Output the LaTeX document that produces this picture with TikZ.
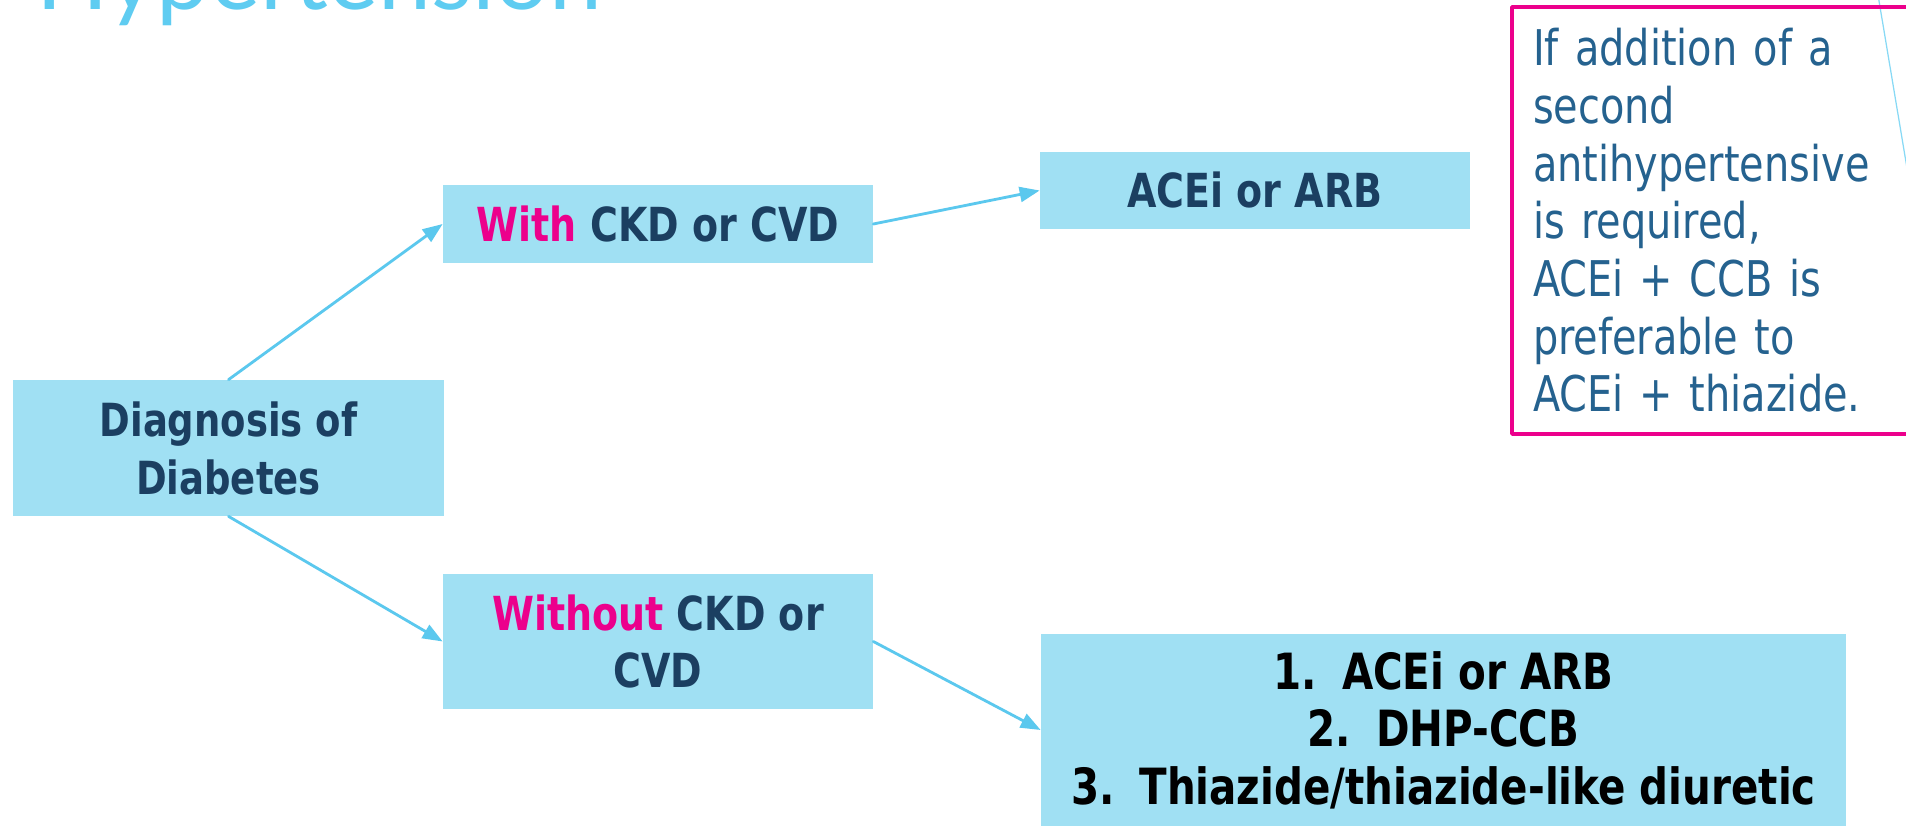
\documentclass[tikz,border=0pt]{standalone}
\usepackage{fontspec}
\setmainfont{DejaVu Sans Condensed}
\newfontfamily\boxfont{DejaVu Sans Condensed}[FakeStretch=0.9]
\newfontfamily\titlefont{Lato}
\usetikzlibrary{arrows.meta,positioning}
\definecolor{dmbox}{HTML}{A0E0F3}
\definecolor{dmarrow}{HTML}{5BC8EE}
\definecolor{dmink}{HTML}{1B3F61}
\definecolor{dmpink}{HTML}{EC008C}
\definecolor{dmnote}{HTML}{25628F}
\definecolor{dmtitle}{HTML}{5FCCF1}

\begin{document}
\begin{tikzpicture}[>={Triangle[length=0.4cm,width=0.3cm]},
  line cap=round,line join=round,
  box/.style={fill=dmbox,inner sep=0pt,align=center,text=dmink,
    font=\boxfont\bfseries\fontsize{26.7}{33}\selectfont},
  link/.style={->,dmarrow,line width=1.6pt}]
\path[use as bounding box] (0,0) rectangle (38.12,16.5);
\fill[white] (0,0) rectangle (38.12,16.5);
\begin{scope}
\clip (0,0) rectangle (38.12,16.5);
% slide title: only its lower edge is on the page
\node[anchor=base west,inner sep=0pt,text=dmtitle,font=\titlefont\fontsize{54}{60}\selectfont] (title) at (0.72,16.3) {Hypertension};
\draw[dmtitle!75,line width=0.7pt] (37.56,16.6)--(38.18,12.9);
% decision tree
\node[box,minimum width=8.62cm,minimum height=2.72cm,font=\boxfont\bfseries\fontsize{26}{33}\selectfont] (diag) at (4.57,7.54) {Diagnosis of\\Diabetes};
\node[box,minimum width=8.6cm,minimum height=1.56cm] (ckdyes) at (13.16,12.02) {\textcolor{dmpink}{With} CKD or CVD};
\node[box,minimum width=8.6cm,minimum height=2.7cm] (ckdno) at (13.16,3.67) {\textcolor{dmpink}{Without} CKD or\\CVD};
\node[box,minimum width=8.6cm,minimum height=1.54cm] (acei) at (25.10,12.69) {ACEi or ARB};
\node[box,minimum width=16.1cm,minimum height=3.84cm,text=black,font=\boxfont\bfseries\fontsize{28.4}{32.7}\selectfont] (drugs) at (28.87,1.90)
  {1.\hspace{0.5em}ACEi or ARB\\2.\hspace{0.5em}DHP-CCB\\3.\hspace{0.5em}Thiazide/thiazide-like diuretic};
\draw[link] (diag.north)--(ckdyes.west);
\draw[link] (diag.south)--(ckdno.west);
\draw[link] (ckdyes.east)--(acei.west);
\draw[link] (ckdno.east)--(drugs.west);
% note on the second drug, cut by the right edge
\node[draw=dmpink,line width=2pt,text=dmnote,align=left,inner xsep=0.42cm,inner ysep=0pt,
  text width=7.92cm,minimum height=8.54cm,font=\boxfont\fontsize{28}{32.8}\selectfont] (note) at (34.62,12.09)
  {If addition of a\\second\\antihypertensive\\is required,\\ACEi + CCB is\\preferable to\\ACEi + thiazide.};
\end{scope}
\end{tikzpicture}
\end{document}
